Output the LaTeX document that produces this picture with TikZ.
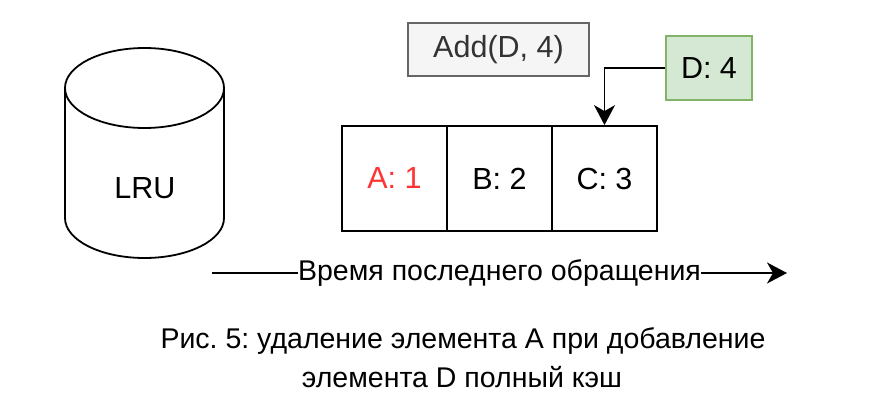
\documentclass[tikz,border=0pt]{standalone}
\usepackage{fontspec}
\setmainfont{Liberation Sans}
\usetikzlibrary{arrows.meta}
\definecolor{addfill}{HTML}{F5F5F5}
\definecolor{adddraw}{HTML}{666666}
\definecolor{addtext}{HTML}{333333}
\definecolor{dfill}{HTML}{D5E8D4}
\definecolor{ddraw}{HTML}{82B366}
\definecolor{redtext}{HTML}{FF3333}
\frenchspacing
\begin{document}
\begin{tikzpicture}[x=1pt,y=-1pt,line width=1.8pt,
  big/.style={font=\fontsize{30.5}{36}\selectfont},
  mid/.style={font=\fontsize{28.5}{34}\selectfont},
  cell/.style={draw=black,big,minimum width=105pt,minimum height=105pt,inner sep=0pt},
  arr/.style={-{Stealth[length=20pt,width=21pt,inset=6pt]}}]
\useasboundingbox (0,0) rectangle (890,406);
% cylinder
\draw[fill=white] (65,88) -- (65,218) arc[start angle=180,end angle=360,x radius=79.5pt,y radius=40pt] -- (224,88);
\draw (144.5,88) ellipse[x radius=79.5pt,y radius=40pt];
\node[big,inner sep=0pt] (lru) at (145,188) {LRU};
% cells
\node[cell,text=redtext] (a) at (394.5,178.5) {A: 1};
\node[cell] (b) at (499.5,178.5) {B: 2};
\node[cell] (c) at (604.5,178.5) {C: 3};
% add box
\node[draw=adddraw,fill=addfill,text=addtext,big,minimum width=181pt,minimum height=53pt,inner sep=0pt] (add) at (498.5,49.5) {Add(D, 4)};
% D: 4
\node[draw=ddraw,fill=dfill,big,minimum width=86pt,minimum height=64pt,inner sep=0pt] (d) at (709,68) {D: 4};
\draw[arr] (d.west) -| (c.north);
% time arrow
\coordinate (t0) at (212,273);
\coordinate (t1) at (787,273);
\draw[arr] (t0) -- node[fill=white,mid,inner xsep=0.5pt,inner ysep=2pt] (tl) {Время последнего обращения} (t1);
% caption
\node[mid,anchor=base,inner sep=0pt] (cap1) at (463,348) {Рис. 5: удаление элемента А при добавление};
\node[mid,anchor=base,inner sep=0pt] (cap2) at (462,387) {элемента D полный кэш};
\end{tikzpicture}
\end{document}
